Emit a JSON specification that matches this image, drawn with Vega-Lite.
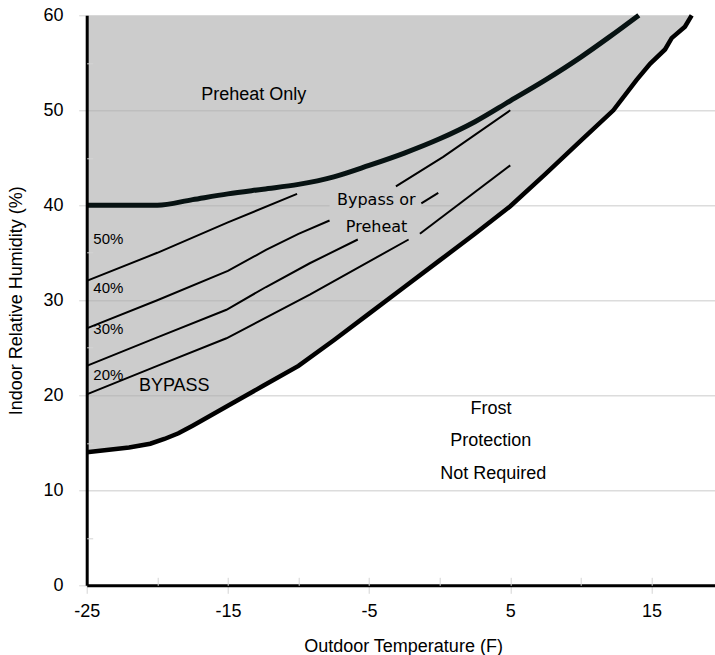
{
  "$schema": "https://vega.github.io/schema/vega-lite/v6.json",
  "autosize": "none",
  "padding": {"left": 86.7, "top": 15.3, "right": 0, "bottom": 69.7},
  "width": 628.3,
  "height": 570,
  "config": {"view": {"stroke": null}, "font": "Liberation Sans"},
  "datasets": {
    "curves": [
      {"s": "lower", "t": -25, "rh": 14.0},
      {"s": "lower", "t": -22, "rh": 14.5},
      {"s": "lower", "t": -20.5, "rh": 14.9},
      {"s": "lower", "t": -19.5, "rh": 15.4},
      {"s": "lower", "t": -18.5, "rh": 16.0},
      {"s": "lower", "t": -17.5, "rh": 16.8},
      {"s": "lower", "t": -15, "rh": 18.9},
      {"s": "lower", "t": -12.5, "rh": 21.0},
      {"s": "lower", "t": -10, "rh": 23.1},
      {"s": "lower", "t": -7.5, "rh": 25.8},
      {"s": "lower", "t": -5, "rh": 28.6},
      {"s": "lower", "t": -2.5, "rh": 31.4},
      {"s": "lower", "t": 0, "rh": 34.2},
      {"s": "lower", "t": 2.5, "rh": 37.0},
      {"s": "lower", "t": 5, "rh": 39.9},
      {"s": "lower", "t": 7.5, "rh": 43.3},
      {"s": "lower", "t": 10, "rh": 46.8},
      {"s": "lower", "t": 12.3, "rh": 50.0},
      {"s": "lower", "t": 13.95, "rh": 53.2},
      {"s": "lower", "t": 14.9, "rh": 54.9},
      {"s": "lower", "t": 15.96, "rh": 56.4},
      {"s": "lower", "t": 16.43, "rh": 57.6},
      {"s": "lower", "t": 17.37, "rh": 58.8},
      {"s": "lower", "t": 17.85, "rh": 60.0},
      {"s": "upper", "t": -25, "rh": 40.0},
      {"s": "upper", "t": -20, "rh": 40.0},
      {"s": "upper", "t": -17.5, "rh": 40.6},
      {"s": "upper", "t": -15, "rh": 41.2},
      {"s": "upper", "t": -12.5, "rh": 41.7},
      {"s": "upper", "t": -10, "rh": 42.2},
      {"s": "upper", "t": -7.5, "rh": 43.0},
      {"s": "upper", "t": -5, "rh": 44.2},
      {"s": "upper", "t": -2.5, "rh": 45.5},
      {"s": "upper", "t": 0, "rh": 47.0},
      {"s": "upper", "t": 2.5, "rh": 48.8},
      {"s": "upper", "t": 5, "rh": 51.0},
      {"s": "upper", "t": 7.5, "rh": 53.2},
      {"s": "upper", "t": 10, "rh": 55.6},
      {"s": "upper", "t": 12, "rh": 57.7},
      {"s": "upper", "t": 14.1, "rh": 60.0},
      {"s": "50a", "t": -25, "rh": 32.05},
      {"s": "50a", "t": -20, "rh": 35.0},
      {"s": "50a", "t": -15, "rh": 38.2},
      {"s": "50a", "t": -10.1, "rh": 41.2},
      {"s": "40a", "t": -25, "rh": 27.05},
      {"s": "40a", "t": -20, "rh": 30.0},
      {"s": "40a", "t": -15, "rh": 33.1},
      {"s": "40a", "t": -12.3, "rh": 35.3},
      {"s": "40a", "t": -10, "rh": 37.0},
      {"s": "40a", "t": -7.8, "rh": 38.4},
      {"s": "40b", "t": -3.1, "rh": 42.0},
      {"s": "40b", "t": 0.25, "rh": 45.1},
      {"s": "40b", "t": 5, "rh": 50.0},
      {"s": "30a", "t": -25, "rh": 23.1},
      {"s": "30a", "t": -20, "rh": 26.1},
      {"s": "30a", "t": -15.1, "rh": 29.0},
      {"s": "30a", "t": -12.3, "rh": 31.4},
      {"s": "30a", "t": -9.2, "rh": 33.9},
      {"s": "30a", "t": -5.8, "rh": 36.4},
      {"s": "30b", "t": -1.3, "rh": 40.2},
      {"s": "30b", "t": -0.1, "rh": 41.3},
      {"s": "20a", "t": -25, "rh": 20.1},
      {"s": "20a", "t": -20, "rh": 23.1},
      {"s": "20a", "t": -15.1, "rh": 26.0},
      {"s": "20a", "t": -9.2, "rh": 30.6},
      {"s": "20a", "t": -2.2, "rh": 36.4},
      {"s": "20b", "t": -1.4, "rh": 37.0},
      {"s": "20b", "t": 5, "rh": 44.2}
    ],
    "labels": [
      {"g": "main", "t": -13.17, "rh": 51.6, "label": "Preheat Only"},
      {"g": "main", "t": -18.8, "rh": 21.0, "label": "BYPASS"},
      {"g": "main", "t": 3.63, "rh": 18.55, "label": "Frost"},
      {"g": "main", "t": 3.61, "rh": 15.2, "label": "Protection"},
      {"g": "main", "t": 3.8, "rh": 11.75, "label": "Not Required"},
      {"g": "bypass", "t": -4.49, "rh": 40.55, "label": "Bypass or"},
      {"g": "bypass", "t": -4.47, "rh": 37.75, "label": "Preheat"},
      {"g": "pct", "t": -24.53, "rh": 36.5, "label": "50%"},
      {"g": "pct", "t": -24.53, "rh": 31.3, "label": "40%"},
      {"g": "pct", "t": -24.53, "rh": 26.95, "label": "30%"},
      {"g": "pct", "t": -24.53, "rh": 22.1, "label": "20%"}
    ],
    "box": [
      {"t": -7.8, "t2": -1.3, "rh": 36.4, "rh2": 42.0}
    ]
  },
  "encoding": {
    "x": {"field": "t", "type": "quantitative", "scale": {"domain": [-25, 19.5], "nice": false, "zero": false}, "axis": null},
    "y": {"field": "rh", "type": "quantitative", "scale": {"domain": [0, 60], "nice": false, "zero": false}, "axis": null}
  },
  "resolve": {"axis": {"x": "independent", "y": "independent"}},
  "layer": [
    {
      "data": {"name": "curves"},
      "transform": [{"filter": {"field": "s", "equal": "lower"}}],
      "mark": {"type": "area", "color": "#aaaaaa", "opacity": 0.6},
      "encoding": {
        "x": {
          "field": "t", "type": "quantitative",
          "scale": {"domain": [-25, 19.5], "nice": false, "zero": false},
          "axis": {
            "orient": "bottom", "values": [-25, -15, -5, 5, 15], "grid": false,
            "labelExpr": "datum.value",
            "domainColor": "#000000", "domainWidth": 3, "tickColor": "#d4d4d4", "tickSize": 8, "tickWidth": 1,
            "labelFont": "Liberation Sans", "labelFontSize": 18, "labelColor": "#000000",
            "labelBaseline": "alphabetic", "labelPadding": 22.7, "labelFlush": false, "labelOverlap": false,
            "title": "Outdoor Temperature (F)", "titleFont": "Liberation Sans", "titleFontSize": 18,
            "titleFontWeight": "normal", "titleColor": "#000000", "titleBaseline": "alphabetic",
            "titleAlign": "center", "titleX": 316.3, "titleY": 66, "zindex": 1
          }
        },
        "y": {
          "field": "rh", "type": "quantitative",
          "scale": {"domain": [0, 60], "nice": false, "zero": false},
          "axis": {
            "orient": "left", "values": [0, 10, 20, 30, 40, 50, 60], "grid": false,
            "domainColor": "#000000", "domainWidth": 3, "tickColor": "#d4d4d4", "tickSize": 8, "tickWidth": 1,
            "labelFont": "Liberation Sans", "labelFontSize": 18, "labelColor": "#000000",
            "labelPadding": 15.7, "labelFlush": false, "labelOverlap": false,
            "title": "Indoor Relative Humidity (%)", "titleFont": "Liberation Sans", "titleFontSize": 18,
            "titleFontWeight": "normal", "titleColor": "#000000", "titleBaseline": "alphabetic",
            "titleAngle": 270, "titleAlign": "center", "titleX": -65.5, "titleY": 285, "zindex": 1
          }
        },
        "y2": {"datum": 60}
      }
    },
    {
      "data": {"name": "box"},
      "mark": {"type": "rect", "color": "#cccccc"},
      "encoding": {
        "x": {
          "field": "t", "type": "quantitative",
          "scale": {"domain": [-25, 19.5], "nice": false, "zero": false},
          "axis": {
            "orient": "bottom", "values": [-20, -15, -10, -5, 0, 5, 10, 15], "grid": false,
            "domain": false, "labels": false, "title": null, "tickColor": "#d4d4d4", "tickSize": -8, "tickWidth": 1, "zindex": 1
          }
        },
        "x2": {"field": "t2"},
        "y": {
          "field": "rh", "type": "quantitative",
          "scale": {"domain": [0, 60], "nice": false, "zero": false},
          "axis": {
            "orient": "left", "values": [5, 15, 25, 35, 45, 55], "grid": false,
            "domain": false, "labels": false, "title": null, "tickColor": "#d4d4d4", "tickSize": -6, "tickWidth": 1, "zindex": 1
          }
        },
        "y2": {"field": "rh2"}
      }
    },
    {
      "data": {"name": "curves"},
      "transform": [{"filter": {"field": "s", "oneOf": ["50a", "40a", "40b", "30a", "30b", "20a", "20b"]}}],
      "mark": {"type": "line", "color": "#000000", "strokeWidth": 2},
      "encoding": {
        "y": {
          "field": "rh", "type": "quantitative",
          "scale": {"domain": [0, 60], "nice": false, "zero": false},
          "axis": {
            "orient": "left", "values": [10, 20, 30, 40, 50], "grid": true, "gridColor": "#dcdcdc", "gridWidth": 1.5,
            "domain": false, "ticks": false, "labels": false, "title": null, "zindex": 0
          }
        },
        "detail": {"field": "s"}
      }
    },
    {
      "data": {"name": "curves"},
      "transform": [{"filter": {"field": "s", "equal": "upper"}}],
      "mark": {"type": "line", "color": "#071212", "strokeWidth": 5, "interpolate": "monotone"},
      "encoding": {}
    },
    {
      "data": {"name": "curves"},
      "transform": [{"filter": {"field": "s", "equal": "lower"}}],
      "mark": {"type": "line", "color": "#000000", "strokeWidth": 4.5},
      "encoding": {}
    },
    {
      "mark": {"type": "rule", "color": "#000000", "strokeWidth": 2.5},
      "encoding": {"x": null, "y": {"datum": 60, "type": "quantitative", "scale": {"domain": [0, 60], "nice": false, "zero": false}, "axis": null}}
    },
    {
      "data": {"name": "labels"},
      "transform": [{"filter": {"field": "g", "equal": "main"}}],
      "mark": {"type": "text", "font": "Liberation Sans", "fontSize": 18, "align": "center", "baseline": "middle", "color": "#000000"},
      "encoding": {"text": {"field": "label"}}
    },
    {
      "data": {"name": "labels"},
      "transform": [{"filter": {"field": "g", "equal": "bypass"}}],
      "mark": {"type": "text", "font": "DejaVu Sans", "fontSize": 16, "align": "center", "baseline": "middle", "color": "#000000"},
      "encoding": {"text": {"field": "label"}}
    },
    {
      "data": {"name": "labels"},
      "transform": [{"filter": {"field": "g", "equal": "pct"}}],
      "mark": {"type": "text", "font": "Liberation Sans", "fontSize": 15, "align": "left", "baseline": "middle", "color": "#000000"},
      "encoding": {"text": {"field": "label"}}
    }
  ]
}
